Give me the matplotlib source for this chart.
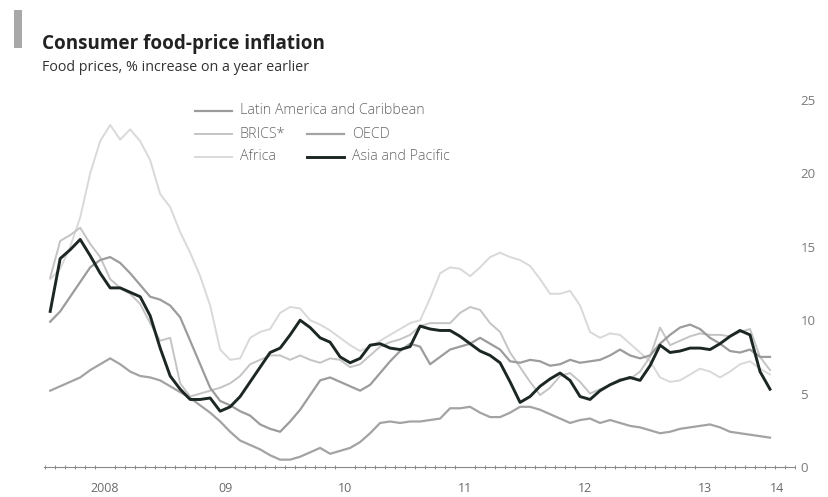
import matplotlib
matplotlib.use("Agg")
import matplotlib.pyplot as plt
import numpy as np
from matplotlib.patches import Rectangle

# Monthly food-price inflation, % y/y, Jan 2008 to Jan 2014
start_year = 2008
n_months = 73

latam = [9.9, 10.6, 11.6, 12.6, 13.6, 14.1, 14.3, 13.9, 13.2, 12.4, 11.6, 11.4,
         11.0, 10.2, 8.6, 7.0, 5.4, 4.5, 4.2, 3.8, 3.5, 2.9, 2.6, 2.4,
         3.1, 3.9, 4.9, 5.9, 6.1, 5.8, 5.5, 5.2, 5.6, 6.4, 7.2, 7.9,
         8.4, 8.2, 7.0, 7.5, 8.0, 8.2, 8.4, 8.8, 8.4, 8.0, 7.2, 7.1,
         7.3, 7.2, 6.9, 7.0, 7.3, 7.1, 7.2, 7.3, 7.6, 8.0, 7.6, 7.4,
         7.6, 8.4, 9.0, 9.5, 9.7, 9.4, 8.8, 8.4, 7.9, 7.8, 8.0, 7.5,
         7.5]
brics = [12.9, 15.4, 15.8, 16.3, 15.2, 14.3, 12.8, 12.2, 11.8, 11.1, 9.8, 8.6,
         8.8, 5.7, 4.8, 5.0, 5.2, 5.4, 5.7, 6.2, 7.0, 7.3, 7.6, 7.6,
         7.3, 7.6, 7.3, 7.1, 7.4, 7.3, 6.8, 7.0, 7.6, 8.2, 8.5, 8.7,
         9.0, 9.6, 9.8, 9.8, 9.8, 10.5, 10.9, 10.7, 9.8, 9.2, 7.8, 6.8,
         5.8, 4.9, 5.4, 6.2, 6.4, 5.8, 5.0, 5.3, 5.6, 6.0, 6.0, 6.5,
         7.5, 9.5, 8.3, 8.6, 8.9, 9.1, 9.0, 9.0, 8.9, 9.2, 9.4, 7.5,
         6.6]
oecd = [5.2, 5.5, 5.8, 6.1, 6.6, 7.0, 7.4, 7.0, 6.5, 6.2, 6.1, 5.9,
        5.5, 5.1, 4.7, 4.2, 3.7, 3.1, 2.4, 1.8, 1.5, 1.2, 0.8, 0.5,
        0.5, 0.7, 1.0, 1.3, 0.9, 1.1, 1.3, 1.7, 2.3, 3.0, 3.1, 3.0,
        3.1, 3.1, 3.2, 3.3, 4.0, 4.0, 4.1, 3.7, 3.4, 3.4, 3.7, 4.1,
        4.1, 3.9, 3.6, 3.3, 3.0, 3.2, 3.3, 3.0, 3.2, 3.0, 2.8, 2.7,
        2.5, 2.3, 2.4, 2.6, 2.7, 2.8, 2.9, 2.7, 2.4, 2.3, 2.2, 2.1,
        2.0]
africa = [12.8, 13.5, 15.0, 17.0, 20.0, 22.2, 23.3, 22.3, 23.0, 22.2, 20.9, 18.6,
          17.7, 16.0, 14.6, 13.0, 11.0, 8.0, 7.3, 7.4, 8.8, 9.2, 9.4, 10.5,
          10.9, 10.8, 10.0, 9.7, 9.3, 8.8, 8.3, 7.9, 8.2, 8.6, 9.0, 9.4,
          9.8, 10.0, 11.5, 13.2, 13.6, 13.5, 13.0, 13.6, 14.3, 14.6, 14.3, 14.1,
          13.7, 12.8, 11.8, 11.8, 12.0, 11.0, 9.2, 8.8, 9.1, 9.0, 8.4, 7.8,
          7.2, 6.1, 5.8, 5.9, 6.3, 6.7, 6.5, 6.1, 6.5, 7.0, 7.2, 6.7,
          6.3]
asia = [10.6, 14.2, 14.8, 15.5, 14.4, 13.2, 12.2, 12.2, 11.9, 11.6, 10.3, 8.1,
        6.2, 5.3, 4.6, 4.6, 4.7, 3.8, 4.1, 4.8, 5.8, 6.8, 7.8, 8.1,
        9.0, 10.0, 9.5, 8.8, 8.5, 7.5, 7.1, 7.4, 8.3, 8.4, 8.1, 8.0,
        8.2, 9.6, 9.4, 9.3, 9.3, 8.9, 8.4, 7.9, 7.6, 7.1, 5.8, 4.4,
        4.8, 5.5, 6.0, 6.4, 5.9, 4.8, 4.6, 5.2, 5.6, 5.9, 6.1, 5.9,
        6.9, 8.3, 7.8, 7.9, 8.1, 8.1, 8.0, 8.4, 8.9, 9.3, 9.0, 6.5,
        5.3]

year_labels = ["2008", "09", "10", "11", "12", "13", "14"]
label_pos = [2008.5, 2009.5, 2010.5, 2011.5, 2012.5, 2013.5, 2014.1]
y_ticks = [0, 5, 10, 15, 20, 25]

# mid-month positions in fractional years
x = start_year + (np.arange(n_months) + 0.5) / 12

plt.rcParams["font.family"] = ["Open Sans", "DejaVu Sans"]

fig = plt.figure(figsize=(8.29, 4.97), dpi=100)
W, H = 829, 497
ax = fig.add_axes([44 / W, 1 - 467 / H, (795 - 44) / W, (467 - 100) / H])

series = [
    ("Africa", africa, "#d9d9d9", 1.4),
    ("BRICS*", brics, "#c4c4c4", 1.4),
    ("OECD", oecd, "#a3a3a3", 1.6),
    ("Latin America and Caribbean", latam, "#9c9c9c", 1.6),
    ("Asia and Pacific", asia, "#1c2723", 2.1),
]
lines = {}
for name, vals, col, lw in series:
    lines[name], = ax.plot(x, vals, color=col, lw=lw, solid_joinstyle="round")

ax.set_xlim(2007.99, 2014.25)
ax.set_ylim(0, 25)

for s in ["top", "left", "right"]:
    ax.spines[s].set_visible(False)
ax.spines["bottom"].set_color("#8a8a8a")
ax.spines["bottom"].set_linewidth(0.8)

ax.yaxis.tick_right()
ax.set_yticks(y_ticks)
ax.tick_params(axis="y", length=0, pad=4, labelsize=9.5, labelcolor="#7a7a7a")

ax.set_xticks(label_pos)
ax.set_xticklabels(year_labels)
ax.set_xticks(start_year + np.arange(0, 76) / 12, minor=True)
ax.tick_params(axis="x", which="major", length=0, pad=11, labelsize=9,
               labelcolor="#6a6a6a")
ax.tick_params(axis="x", which="minor", length=3.5, width=0.7, color="#8a8a8a",
               direction="inout")

# legend, drawn by hand in figure pixels
def legend_entry(px, py, name):
    line = lines[name]
    fig.add_artist(plt.Line2D([px / W, (px + 37) / W], [1 - py / H, 1 - py / H],
                              color=line.get_color(), lw=line.get_linewidth(),
                              transform=fig.transFigure))
    fig.text((px + 45) / W, 1 - py / H, name, fontsize=10.3, color="#666666",
             va="center", ha="left", fontweight="light")

legend_entry(195, 111, "Latin America and Caribbean")
legend_entry(195, 134, "BRICS*")
legend_entry(307, 134, "OECD")
legend_entry(195, 157, "Africa")
legend_entry(307, 157, "Asia and Pacific")

# header
fig.add_artist(Rectangle((14 / W, 1 - 48 / H), 8 / W, 38 / H,
                         transform=fig.transFigure, color="#a8a8a8", lw=0))
fig.text(42 / W, 1 - 49 / H, "Consumer food-price inflation", fontsize=13.6,
         fontweight="bold", color="#222222", va="baseline", ha="left")
fig.text(42 / W, 1 - 71 / H, "Food prices, % increase on a year earlier",
         fontsize=10.3, color="#333333", va="baseline", ha="left")

fig.savefig("out.png", dpi=100, facecolor="white")
